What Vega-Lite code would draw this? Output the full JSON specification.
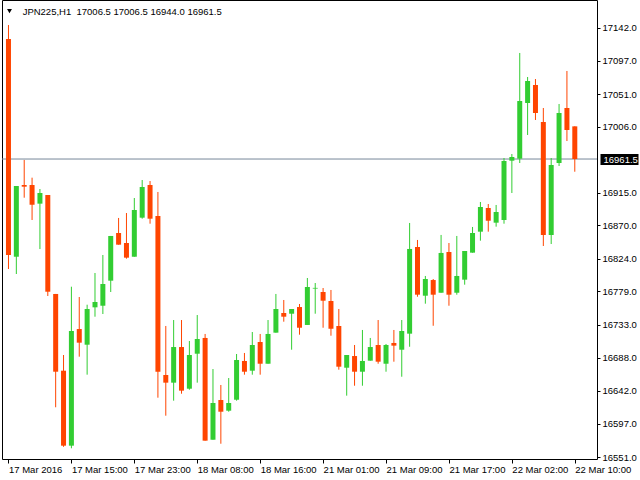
{
  "$schema": "https://vega.github.io/schema/vega-lite/v6.json",
  "width": 595,
  "height": 459,
  "autosize": "none",
  "padding": {"left": 2, "top": 0, "right": 43, "bottom": 21},
  "background": "white",
  "config": {
    "view": {"stroke": "black", "strokeWidth": 1},
    "axis": {"labelFont": "Liberation Sans", "labelFontSize": 9.5, "labelColor": "black", "grid": false, "domain": false, "tickColor": "black", "title": null, "labelOverlap": false}
  },
  "datasets": {
    "candles": [
      {"i":0,"o":17126.8,"h":17146.1,"l":16810.0,"c":16829.3},
      {"i":1,"o":16826.9,"h":16924.3,"l":16803.1,"c":16924.3},
      {"i":2,"o":16925.7,"h":16960.2,"l":16908.2,"c":16923.4},
      {"i":3,"o":16925.7,"h":16935.8,"l":16877.5,"c":16898.6},
      {"i":4,"o":16900.0,"h":16920.2,"l":16837.5,"c":16914.7},
      {"i":5,"o":16911.9,"h":16911.9,"l":16772.8,"c":16778.7},
      {"i":6,"o":16775.6,"h":16775.6,"l":16619.5,"c":16668.5},
      {"i":7,"o":16669.9,"h":16691.5,"l":16565.0,"c":16566.6},
      {"i":8,"o":16566.6,"h":16785.6,"l":16563.0,"c":16724.6},
      {"i":9,"o":16727.3,"h":16771.4,"l":16689.2,"c":16708.5},
      {"i":10,"o":16705.7,"h":16760.8,"l":16664.4,"c":16754.9},
      {"i":11,"o":16757.2,"h":16804.5,"l":16744.3,"c":16764.5},
      {"i":12,"o":16759.4,"h":16829.3,"l":16748.0,"c":16789.3},
      {"i":13,"o":16793.9,"h":16855.5,"l":16778.3,"c":16855.5},
      {"i":14,"o":16859.6,"h":16880.3,"l":16843.5,"c":16843.5},
      {"i":15,"o":16845.8,"h":16887.1,"l":16824.2,"c":16825.6},
      {"i":16,"o":16826.9,"h":16907.8,"l":16826.9,"c":16891.3},
      {"i":17,"o":16880.7,"h":16932.6,"l":16879.3,"c":16923.0},
      {"i":18,"o":16925.7,"h":16931.2,"l":16872.4,"c":16879.3},
      {"i":19,"o":16883.0,"h":16916.1,"l":16632.7,"c":16668.5},
      {"i":20,"o":16664.0,"h":16731.5,"l":16607.9,"c":16653.4},
      {"i":21,"o":16653.4,"h":16739.7,"l":16628.6,"c":16702.5},
      {"i":22,"o":16702.5,"h":16739.7,"l":16638.2,"c":16642.4},
      {"i":23,"o":16645.1,"h":16710.8,"l":16643.7,"c":16691.5},
      {"i":24,"o":16693.3,"h":16746.6,"l":16653.4,"c":16713.6},
      {"i":25,"o":16715.0,"h":16720.5,"l":16573.5,"c":16573.5},
      {"i":26,"o":16574.8,"h":16672.2,"l":16574.8,"c":16625.4},
      {"i":27,"o":16629.5,"h":16650.2,"l":16569.3,"c":16613.4},
      {"i":28,"o":16614.8,"h":16659.8,"l":16613.4,"c":16625.4},
      {"i":29,"o":16629.9,"h":16692.9,"l":16628.6,"c":16684.6},
      {"i":30,"o":16683.3,"h":16694.3,"l":16664.4,"c":16668.5},
      {"i":31,"o":16669.9,"h":16723.2,"l":16664.4,"c":16705.3},
      {"i":32,"o":16709.4,"h":16720.5,"l":16664.4,"c":16679.5},
      {"i":33,"o":16679.5,"h":16739.7,"l":16679.5,"c":16720.5},
      {"i":34,"o":16722.3,"h":16775.6,"l":16722.3,"c":16754.9},
      {"i":35,"o":16749.4,"h":16767.3,"l":16737.4,"c":16744.3},
      {"i":36,"o":16748.4,"h":16754.9,"l":16698.8,"c":16754.9},
      {"i":37,"o":16757.6,"h":16761.8,"l":16719.5,"c":16729.1},
      {"i":38,"o":16732.9,"h":16797.6,"l":16732.9,"c":16785.2},
      {"i":39,"o":16783.0,"h":16790.7,"l":16748.4,"c":16784.0},
      {"i":40,"o":16778.3,"h":16783.8,"l":16729.1,"c":16766.3},
      {"i":41,"o":16765.9,"h":16781.1,"l":16718.1,"c":16727.7},
      {"i":42,"o":16731.5,"h":16754.9,"l":16671.3,"c":16675.4},
      {"i":43,"o":16674.0,"h":16691.5,"l":16635.5,"c":16691.5},
      {"i":44,"o":16690.1,"h":16705.3,"l":16649.2,"c":16668.5},
      {"i":45,"o":16668.5,"h":16726.0,"l":16649.2,"c":16683.3},
      {"i":46,"o":16683.7,"h":16715.0,"l":16683.7,"c":16702.5},
      {"i":47,"o":16705.3,"h":16739.7,"l":16679.5,"c":16682.3},
      {"i":48,"o":16679.5,"h":16706.7,"l":16668.5,"c":16705.3},
      {"i":49,"o":16708.1,"h":16726.0,"l":16682.3,"c":16704.4},
      {"i":50,"o":16698.8,"h":16739.7,"l":16661.6,"c":16724.6},
      {"i":51,"o":16720.9,"h":16873.4,"l":16702.9,"c":16837.6},
      {"i":52,"o":16840.3,"h":16850.0,"l":16771.8,"c":16774.6},
      {"i":53,"o":16773.2,"h":16800.4,"l":16762.2,"c":16796.2},
      {"i":54,"o":16794.8,"h":16796.2,"l":16731.8,"c":16774.6},
      {"i":55,"o":16777.3,"h":16856.9,"l":16777.3,"c":16832.1},
      {"i":56,"o":16833.4,"h":16845.8,"l":16759.4,"c":16774.6},
      {"i":57,"o":16777.3,"h":16855.5,"l":16774.6,"c":16800.4},
      {"i":58,"o":16795.3,"h":16834.8,"l":16788.4,"c":16834.8},
      {"i":59,"o":16832.5,"h":16867.9,"l":16832.5,"c":16859.6},
      {"i":60,"o":16861.4,"h":16902.3,"l":16849.0,"c":16895.4},
      {"i":61,"o":16894.0,"h":16899.5,"l":16861.4,"c":16876.5},
      {"i":62,"o":16873.8,"h":16898.2,"l":16868.3,"c":16888.5},
      {"i":63,"o":16877.5,"h":16962.9,"l":16872.4,"c":16958.8},
      {"i":64,"o":16959.2,"h":16968.4,"l":16914.7,"c":16964.3},
      {"i":65,"o":16962.0,"h":17107.6,"l":16956.0,"c":17041.4},
      {"i":66,"o":17038.7,"h":17074.5,"l":16994.6,"c":17069.0},
      {"i":67,"o":17063.5,"h":17071.7,"l":17015.3,"c":17024.9},
      {"i":68,"o":17012.5,"h":17031.8,"l":16841.7,"c":16856.8},
      {"i":69,"o":16856.8,"h":16962.9,"l":16844.4,"c":16953.3},
      {"i":70,"o":16956.0,"h":17037.3,"l":16951.9,"c":17024.9},
      {"i":71,"o":17031.8,"h":17082.8,"l":16986.3,"c":17001.5},
      {"i":72,"o":17006.5,"h":17006.5,"l":16944.0,"c":16961.5}
    ],
    "last": [{"price": 16961.5}],
    "header": [{"t": "JPN225,H1\u00a0\u00a017006.5 17006.5 16944.0 16961.5"}]
  },
  "resolve": {"axis": {"y": "independent"}},
  "layer": [
    {
      "layer": [
        {
          "data": {"name": "last"},
          "mark": {"type": "rule", "color": "#778899", "strokeWidth": 1},
          "encoding": {
            "y": {
              "field": "price", "type": "quantitative",
              "scale": {"domain": [16548.25, 17180.57], "nice": false, "zero": false},
              "axis": {
                "orient": "right", "values": [16961.5], "format": ".1f", "offset": 3,
                "tickSize": 38, "tickWidth": 11, "tickColor": "black", "tickCap": "butt",
                "labelColor": "white", "labelPadding": -35, "labelBaseline": "middle",
                "labelFont": "Liberation Sans", "labelFontSize": 9.5
              }
            }
          }
        },
        {
          "data": {"name": "header"},
          "mark": {"type": "point", "shape": "triangle-down", "filled": true, "color": "black", "size": 24, "opacity": 1},
          "encoding": {
            "x": {"datum": 0.13, "type": "quantitative"},
            "y": {"datum": 17165.4, "type": "quantitative"}
          }
        },
        {
          "data": {"name": "header"},
          "mark": {"type": "text", "align": "left", "baseline": "alphabetic", "font": "Liberation Sans", "fontSize": 9.5, "color": "black"},
          "encoding": {
            "x": {"datum": 1.8, "type": "quantitative"},
            "y": {"datum": 17159.9, "type": "quantitative"},
            "text": {"field": "t"}
          }
        }
      ]
    },
    {
      "data": {"name": "candles"},
      "layer": [
        {
          "mark": {"type": "rule", "strokeWidth": 1, "clip": true},
          "encoding": {
            "x": {
              "field": "i", "type": "quantitative",
              "scale": {"domain": [-0.1875, 74.1875], "nice": false, "zero": false},
              "axis": {
                "values": [0, 8, 16, 24, 32, 40, 48, 56, 64, 72],
                "tickCount": 20,
                "labelExpr": "['17 Mar 2016','17 Mar 15:00','17 Mar 23:00','18 Mar 08:00','18 Mar 16:00','21 Mar 01:00','21 Mar 09:00','21 Mar 17:00','22 Mar 02:00','22 Mar 10:00'][round(datum.value/8)]",
                "labelAlign": "left", "labelBaseline": "top", "labelFlush": false, "labelOverlap": false, "labelBound": false,
                "tickSize": 4, "labelPadding": 1
              }
            },
            "y": {
              "field": "l", "type": "quantitative",
              "axis": {
                "orient": "right",
                "values": [16551, 16597, 16642, 16688, 16733, 16779, 16824, 16870, 16915, 17006, 17051, 17097, 17142],
                "tickCount": 20,
                "format": ".1f", "tickSize": 3, "labelPadding": 2, "labelBaseline": "middle", "labelOverlap": false
              }
            },
            "y2": {"field": "h"},
            "color": {"condition": {"test": "datum.c >= datum.o", "value": "#32CD32"}, "value": "#FF4500"}
          }
        },
        {
          "mark": {"type": "bar", "size": 5, "clip": true},
          "encoding": {
            "x": {"field": "i", "type": "quantitative"},
            "y": {"field": "o", "type": "quantitative"},
            "y2": {"field": "c"},
            "color": {"condition": {"test": "datum.c >= datum.o", "value": "#32CD32"}, "value": "#FF4500"}
          }
        }
      ]
    }
  ]
}
